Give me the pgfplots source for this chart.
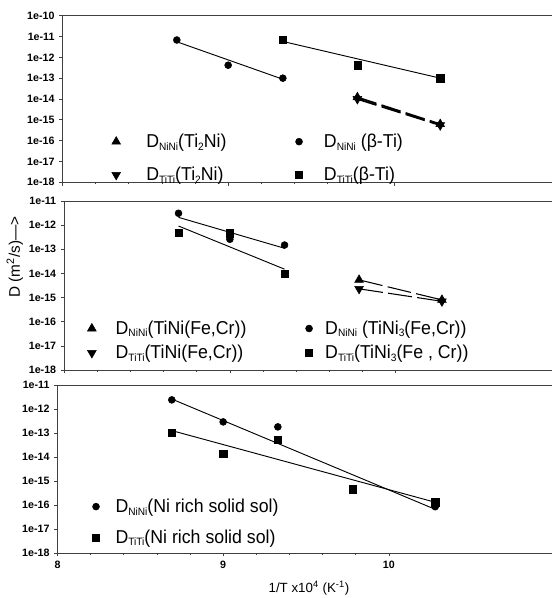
\documentclass[border=0pt]{standalone}
\usepackage{fontspec}
\setmainfont{Liberation Sans}
\newfontfamily\legfont[FakeStretch=0.95]{Liberation Sans}
\newcommand\sub[1]{\raisebox{-2pt}{\fontsize{8}{8}\selectfont #1}}
\usepackage{pgfplots}
\pgfplotsset{compat=1.18}
\pgfplotsset{every axis/.append style={
    scale only axis, width=372.75pt, xmin=8, xmax=11, ymode=log,
    axis x line*=box, axis y line*=left,
    xtick={8,9,10}, minor x tick num=4, xtick pos=left, ytick pos=left,
    yminorticks=false,
    tick align=outside, major tick length=2.5pt, minor tick length=1.5pt,
    axis line style={line width=0.6pt, black!75},
    tick style={black!75, line width=0.5pt},
    tick label style={font=\fontsize{8}{9}\selectfont\bfseries},
    legend cell align=left,
}}
\begin{document}
\begin{tikzpicture}
\path[use as bounding box] (0pt,0pt) rectangle (413.25pt,448.5pt);

% ---------------- top panel ----------------
\begin{axis}[at={(46.875pt,311.775pt)}, anchor=south west, height=124.95pt,
  ymin=1e-18, ymax=1e-10,
  ytick={1e-18,1e-17,1e-16,1e-15,1e-14,1e-13,1e-12,1e-11,1e-10},
  yticklabels={1e-18,1e-17,1e-16,1e-15,1e-14,1e-13,1e-12,1e-11,1e-10},
  xticklabels={},
  legend columns=2,
  legend style={draw=none, fill=none, at={(axis description cs:0.0987,0.292)}, anchor=north west,
    font=\legfont\fontsize{14}{16}\selectfont, inner sep=0pt, row sep=13.25pt, nodes={inner sep=0pt},
    /tikz/column 1/.style={column sep=19.25pt},
    /tikz/column 2/.style={column sep=51.7pt},
    /tikz/column 3/.style={column sep=16pt}},
]
\addplot[only marks, black, mark=triangle*, mark size=3.8pt] coordinates {(9.78,1.2e-14) (10.28,6.2e-16)};
\addlegendentry{D\sub{NiNi}(Ti\sub{2}Ni)}
\addplot[only marks, black, mark=*, mark size=2.6pt] coordinates {(8.69,6.8e-12) (9.00,4.2e-13) (9.33,1.0e-13)};
\addlegendentry{D\sub{NiNi} (β-Ti)}
\addplot[only marks, black, mark=triangle*, mark size=3.8pt, mark options={rotate=180}] coordinates {(9.78,1.0e-14) (10.28,5.5e-16)};
\addlegendentry{D\sub{TiTi}(Ti\sub{2}Ni)}
\addplot[only marks, black, mark=square*, mark size=2.7pt] coordinates {(9.33,6.8e-12) (9.78,4.2e-13) (10.28,1.0e-13)};
\addlegendentry{D\sub{TiTi}(β-Ti)}
\addplot[forget plot, black, line width=0.7pt] coordinates {(8.69,5.6e-12) (9.33,8.9e-14)};
\addplot[forget plot, black, line width=0.7pt] coordinates {(9.33,5.8e-12) (10.28,1.0e-13)};
\addplot[forget plot, black, line width=1.3pt, dash pattern=on 15pt off 4pt] coordinates {(9.78,1.2e-14) (10.28,6.2e-16)};
\addplot[forget plot, black, line width=1.3pt, dash pattern=on 15pt off 4pt] coordinates {(9.78,1.0e-14) (10.28,5.5e-16)};
\end{axis}

% ---------------- middle panel ----------------
\begin{axis}[at={(48.15pt,171pt)}, anchor=south west, height=126.75pt,
  ymin=1e-18, ymax=1e-11,
  ytick={1e-18,1e-17,1e-16,1e-15,1e-14,1e-13,1e-12,1e-11},
  yticklabels={1e-18,1e-17,1e-16,1e-15,1e-14,1e-13,1e-12,1e-11},
  xticklabels={},
  ylabel={D (m\textsuperscript{2}/s)--->},
  ylabel style={at={(axis description cs:-0.0994,0.669)}, anchor=center, font=\fontsize{11.5}{13}\selectfont},
  legend columns=2,
  legend style={draw=none, fill=none, at={(axis description cs:0.0463,0.293)}, anchor=north west,
    font=\legfont\fontsize{14}{16}\selectfont, inner sep=0pt, row sep=6.7pt, nodes={inner sep=0pt},
    /tikz/column 1/.style={column sep=14.55pt},
    /tikz/column 2/.style={column sep=44.3pt},
    /tikz/column 3/.style={column sep=9.4pt}},
]
\addplot[only marks, black, mark=triangle*, mark size=3.8pt] coordinates {(9.78,5.4e-15) (10.28,8.0e-16)};
\addlegendentry{D\sub{NiNi}(TiNi(Fe,Cr))}
\addplot[only marks, black, mark=*, mark size=2.6pt] coordinates {(8.69,3.1e-12) (9.00,2.6e-13) (9.33,1.5e-13)};
\addlegendentry{D\sub{NiNi} (TiNi\sub{3}(Fe,Cr))}
\addplot[only marks, black, mark=triangle*, mark size=3.8pt, mark options={rotate=180}] coordinates {(9.78,2.3e-15) (10.28,7.0e-16)};
\addlegendentry{D\sub{TiTi}(TiNi(Fe,Cr))}
\addplot[only marks, black, mark=square*, mark size=2.7pt] coordinates {(8.69,5.0e-13) (9.00,4.6e-13) (9.33,9.5e-15)};
\addlegendentry{D\sub{TiTi}(TiNi\sub{3}(Fe , Cr))}
\addplot[forget plot, black, line width=0.7pt] coordinates {(8.69,2.1e-12) (9.33,1.1e-13)};
\addplot[forget plot, black, line width=0.7pt] coordinates {(8.69,9.2e-13) (9.33,1.5e-14)};
\addplot[forget plot, black, line width=0.8pt, dash pattern=on 18pt off 4pt] coordinates {(9.78,5.4e-15) (10.28,8.0e-16)};
\addplot[forget plot, black, line width=0.8pt, dash pattern=on 18pt off 4pt] coordinates {(9.78,2.3e-15) (10.28,7.0e-16)};
\end{axis}

% ---------------- bottom panel ----------------
\begin{axis}[at={(43.125pt,33.75pt)}, anchor=south west, height=126pt,
  ymin=1e-18, ymax=1e-11,
  ytick={1e-18,1e-17,1e-16,1e-15,1e-14,1e-13,1e-12,1e-11},
  yticklabels={1e-18,1e-17,1e-16,1e-15,1e-14,1e-13,1e-12,1e-11},
  xticklabels={8,9,10},
  xlabel={1/T x10\textsuperscript{4} (K\textsuperscript{-1})},
  xlabel style={at={(axis description cs:0.506,-0.208)}, anchor=center, font=\fontsize{10}{12}\selectfont},
  legend columns=1,
  legend style={draw=none, fill=none, at={(axis description cs:0.0697,0.324)}, anchor=north west,
    font=\legfont\fontsize{14}{16}\selectfont, inner sep=0pt, row sep=11.5pt, nodes={inner sep=0pt},
    /tikz/column 1/.style={column sep=11.95pt}},
]
\addplot[only marks, black, mark=*, mark size=2.6pt] coordinates {(8.69,2.4e-12) (9.00,2.9e-13) (9.33,1.8e-13) (10.28,8.5e-17)};
\addlegendentry{D\sub{NiNi}(Ni rich solid sol)}
\addplot[only marks, black, mark=square*, mark size=2.7pt] coordinates {(8.69,1.0e-13) (9.00,1.4e-14) (9.33,5.1e-14) (9.78,4.5e-16) (10.28,1.3e-16)};
\addlegendentry{D\sub{TiTi}(Ni rich solid sol)}
\addplot[forget plot, black, line width=0.7pt] coordinates {(8.69,2.6e-12) (10.28,6.6e-17)};
\addplot[forget plot, black, line width=0.7pt] coordinates {(8.69,1.26e-13) (10.28,1.3e-16)};
\end{axis}
\end{tikzpicture}
\end{document}
